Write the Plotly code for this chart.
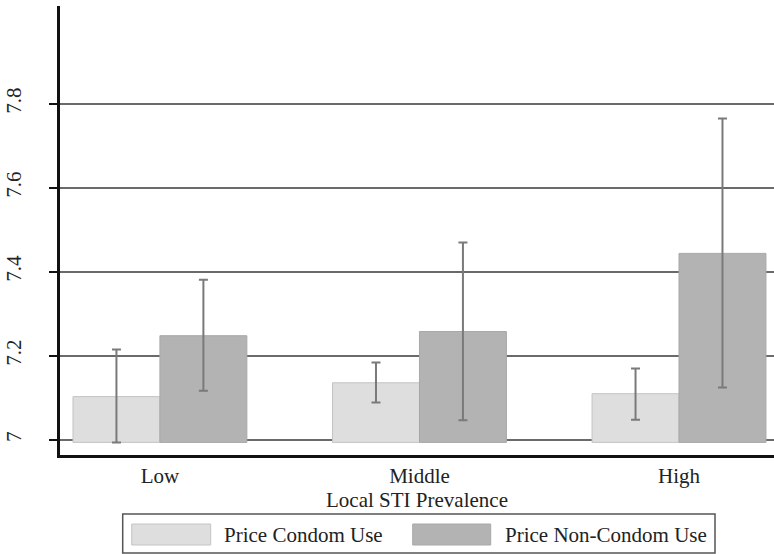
import plotly.graph_objects as go

categories = ["Low", "Middle", "High"]
series_names = ["Price Condom Use", "Price Non-Condom Use"]
condom_mean = [7.103, 7.136, 7.110]
condom_hi = [7.215, 7.184, 7.170]
condom_lo = [6.994, 7.089, 7.048]
noncondom_mean = [7.248, 7.258, 7.444]
noncondom_hi = [7.381, 7.470, 7.765]
noncondom_lo = [7.117, 7.047, 7.125]
y_ticks = [7, 7.2, 7.4, 7.6, 7.8]
y_ticklabels = ["7", "7.2", "7.4", "7.6", "7.8"]
bar_base = 6.994

FONT = "Liberation Serif, Times New Roman, serif"
colors = ["#dedede", "#b3b3b3"]
outlines = ["#c4c4c4", "#a8a8a8"]

fig = go.Figure()
for name, mean, hi, lo, col, oc in [
    (series_names[0], condom_mean, condom_hi, condom_lo, colors[0], outlines[0]),
    (series_names[1], noncondom_mean, noncondom_hi, noncondom_lo, colors[1], outlines[1]),
]:
    fig.add_trace(go.Bar(
        x=categories,
        y=[m - bar_base for m in mean],
        base=bar_base,
        name=name,
        marker=dict(color=col, line=dict(color=oc, width=1)),
        error_y=dict(
            type="data", symmetric=False,
            array=[h - m for h, m in zip(hi, mean)],
            arrayminus=[m - l for m, l in zip(mean, lo)],
            color="#7a7a7a", thickness=2, width=4.5,
        ),
        showlegend=False,
        hoverinfo="skip",
    ))

# plot area in pixels: x 60..774, y 6..455
L, R, T, B = 60, 774, 6, 455
def px(x):
    return (x - L) / (R - L)
def py(y):
    return (B - y) / (B - T)

shapes = [
    dict(type="rect", xref="paper", yref="paper", x0=px(122.7), x1=px(715), y0=py(514), y1=py(553),
         line=dict(color="#555555", width=1.5), fillcolor="white", layer="above"),
    dict(type="rect", xref="paper", yref="paper", x0=px(131.7), x1=px(210.7), y0=py(524), y1=py(545),
         line=dict(color=outlines[0], width=1), fillcolor=colors[0], layer="above"),
    dict(type="rect", xref="paper", yref="paper", x0=px(412.7), x1=px(490.7), y0=py(524), y1=py(545),
         line=dict(color=outlines[1], width=1), fillcolor=colors[1], layer="above"),
]
annotations = [
    dict(xref="paper", yref="paper", x=px(221.7), y=py(534.5), text=series_names[0], showarrow=False,
         xanchor="left", yanchor="middle", font=dict(family=FONT, size=21, color="#222222")),
    dict(xref="paper", yref="paper", x=px(503), y=py(534.5), text=series_names[1], showarrow=False,
         xanchor="left", yanchor="middle", font=dict(family=FONT, size=21, color="#222222")),
]

fig.update_layout(
    width=774, height=554,
    margin=dict(l=L, r=774 - R, t=T, b=554 - B),
    paper_bgcolor="white", plot_bgcolor="white",
    barmode="group", bargap=0.33, bargroupgap=0,
    font=dict(family=FONT, size=21, color="#222222"),
    shapes=shapes, annotations=annotations,
    xaxis=dict(
        range=[-0.385, 2.366], showgrid=False, showline=True, linecolor="#111111", linewidth=2.5,
        ticks="", tickfont=dict(family=FONT, size=21, color="#222222"),
        title=dict(text="Local STI Prevalence", font=dict(family=FONT, size=21, color="#222222"), standoff=0),
        zeroline=False,
    ),
    yaxis=dict(
        range=[6.964, 8.033], tickvals=y_ticks, ticktext=y_ticklabels, tickangle=-90,
        showgrid=True, gridcolor="#6a6a6a", gridwidth=2,
        showline=True, linecolor="#111111", linewidth=2.5,
        ticks="outside", ticklen=8, tickwidth=2, tickcolor="#111111",
        ticklabelstandoff=20,
        tickfont=dict(family=FONT, size=21, color="#222222"),
        zeroline=False,
    ),
)

fig.write_html("out.html", config={"displayModeBar": False},
               post_script="document.body.style.margin='0';document.body.style.overflow='hidden';")
